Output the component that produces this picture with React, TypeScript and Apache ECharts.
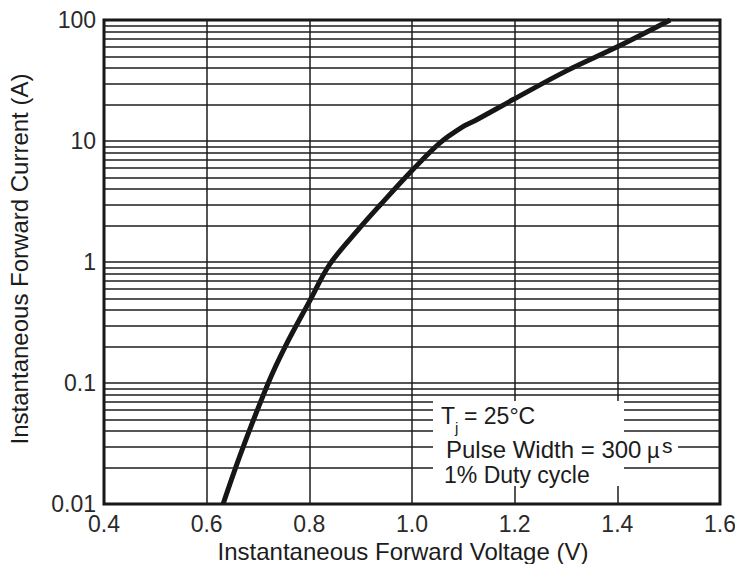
import React, { useEffect, useRef } from "react";
import * as echarts from "echarts";

// Forward voltage (V) and instantaneous forward current (A)
const voltage = [0.632, 0.669, 0.72, 0.753, 0.8, 0.84, 0.899, 0.938, 1.0, 1.055, 1.1, 1.126, 1.197, 1.3, 1.4, 1.503];
const current = [0.01, 0.028, 0.1, 0.2, 0.47, 0.96, 1.93, 2.96, 5.7, 9.7, 13.2, 15, 22, 37.8, 60, 100];

// axis ranges / ticks
const xMin = 0.4;
const xMax = 1.6;
const xStep = 0.2;
const yMin = 0.01;
const yMax = 100;
const decades = [0.01, 0.1, 1, 10];
const minorMultipliers = [2, 3, 4, 5, 6, 7, 8, 9];

const xTitle = "Instantaneous Forward Voltage (V)";
const yTitle = "Instantaneous Forward Current (A)";
const noteTj = "= 25°C";
const notePulse = "Pulse Width = 300";
const noteDuty = "1% Duty cycle";

const FONT = "'Liberation Sans', Arial, Helvetica, sans-serif";
const INK = "#1c1c1c";

export default function App() {
  const ref = useRef<HTMLDivElement>(null);

  useEffect(() => {
    if (!ref.current) return;
    const chart = echarts.init(ref.current, undefined, { renderer: "svg" });

    const minorLines: { yAxis: number }[] = [];
    decades.forEach((d) => minorMultipliers.forEach((m) => minorLines.push({ yAxis: +(d * m).toPrecision(3) })));

    const textStyle = (text: string, size = 23) => ({
      text,
      fontSize: size,
      fontFamily: FONT,
      fill: INK,
      align: "left",
      verticalAlign: "middle",
      lineHeight: Math.round(size * 0.8),
    });

    chart.setOption({
      animation: false,
      backgroundColor: "#ffffff",
      grid: {
        left: 104,
        top: 20,
        width: 616,
        height: 484,
        show: true,
        borderWidth: 3,
        borderColor: "#111",
        backgroundColor: "transparent",
        containLabel: false,
        outerBoundsMode: "none",
      },
      xAxis: {
        type: "value",
        min: xMin,
        max: xMax,
        interval: xStep,
        axisLine: { show: false },
        axisTick: { show: false },
        axisLabel: {
          fontSize: 23,
          fontFamily: FONT,
          color: "#2a2a2a",
          margin: 8,
          formatter: (v: number) => v.toFixed(1),
        },
        splitLine: { show: true, lineStyle: { color: INK, width: 1.5 } },
        name: xTitle,
        nameLocation: "middle",
        nameGap: 33,
        nameTextStyle: { fontSize: 24, fontFamily: FONT, color: INK, padding: [0, 18, 0, 0] },
      },
      yAxis: {
        type: "log",
        logBase: 10,
        min: yMin,
        max: yMax,
        axisLine: { show: false },
        axisTick: { show: false },
        axisLabel: {
          fontSize: 23,
          fontFamily: FONT,
          color: "#2a2a2a",
          margin: 8,
        },
        splitLine: { show: true, lineStyle: { color: INK, width: 1.5 } },
        name: yTitle,
        nameLocation: "middle",
        nameGap: 73,
        nameTextStyle: { fontSize: 24, fontFamily: FONT, color: INK, padding: [0, 0, 0, 6] },
      },
      series: [
        {
          type: "line",
          data: voltage.map((v, i) => [v, current[i]]),
          symbol: "none",
          smooth: 0.35,
          lineStyle: { color: "#161616", width: 5 },
          silent: true,
          markLine: {
            silent: true,
            symbol: ["none", "none"],
            label: { show: false },
            emphasis: { disabled: true },
            lineStyle: { color: INK, width: 1.5, type: "solid" },
            data: minorLines,
          },
        },
      ],
      graphic: {
        elements: [
          { type: "rect", z: 100, shape: { x: 433, y: 401, width: 191, height: 85 }, style: { fill: "#ffffff" } },
          { type: "rect", z: 100, shape: { x: 620, y: 440, width: 58, height: 20 }, style: { fill: "#ffffff" } },
          { type: "text", z: 101, x: 441, y: 416, style: textStyle("T") },
          { type: "text", z: 101, x: 455, y: 427, style: textStyle("j", 15) },
          { type: "text", z: 101, x: 464, y: 416, style: textStyle(noteTj) },
          { type: "text", z: 101, x: 446, y: 449, style: textStyle(notePulse, 24) },
          { type: "text", z: 101, x: 647, y: 450, style: textStyle("µ", 22) },
          { type: "text", z: 101, x: 662, y: 445, style: textStyle("s", 21) },
          { type: "text", z: 101, x: 444, y: 475, style: textStyle(noteDuty) },
        ],
      },
    });

    return () => chart.dispose();
  }, []);

  return (
    <div
      ref={ref}
      style={{ position: "fixed", left: 0, top: 0, width: 735, height: 564, background: "#fff" }}
    />
  );
}
